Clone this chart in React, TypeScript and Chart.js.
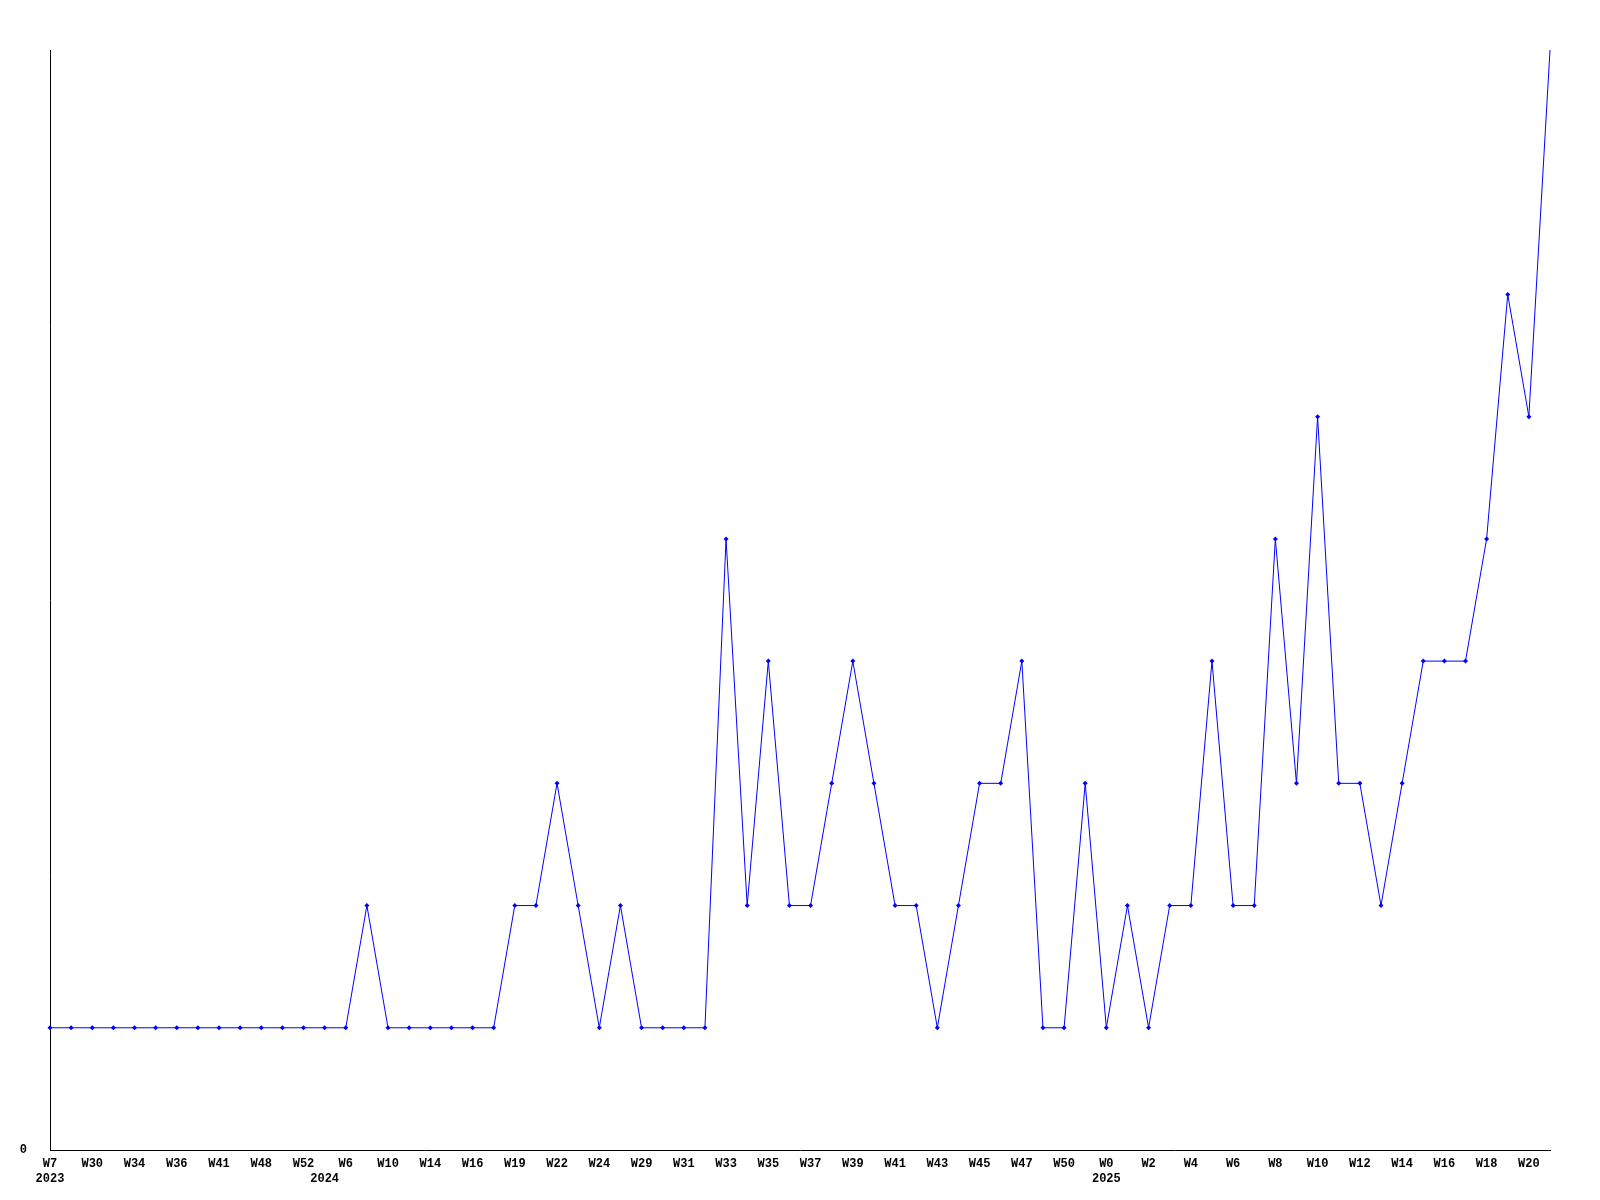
import React, { useEffect, useRef } from "react";
import { Chart, registerables } from "chart.js";

Chart.register(...registerables);

// Weekly values (72 weeks)
const values: number[] = [
  1, 1, 1, 1, 1, 1, 1, 1, 1, 1, 1, 1, 1, 1, 1, 2, 1, 1, 1, 1,
  1, 1, 2, 2, 3, 2, 1, 2, 1, 1, 1, 1, 5, 2, 4, 2, 2, 3, 4, 3,
  2, 2, 1, 2, 3, 3, 4, 1, 1, 3, 1, 2, 1, 2, 2, 4, 2, 2, 5, 3,
  6, 3, 3, 2, 3, 4, 4, 4, 5, 7, 6, 9,
];

// Week labels shown on every other point
const weekTickLabels: string[] = [
  "W7", "W30", "W34", "W36", "W41", "W48", "W52", "W6", "W10", "W14", "W16", "W19",
  "W22", "W24", "W29", "W31", "W33", "W35", "W37", "W39", "W41", "W43", "W45", "W47",
  "W50", "W0", "W2", "W4", "W6", "W8", "W10", "W12", "W14", "W16", "W18", "W20",
];

// Year labels: [point index, year]
const yearIndices: number[] = [0, 13, 50];
const yearNames: string[] = ["2023", "2024", "2025"];

const yMax = 9;

export default function App() {
  const canvasRef = useRef<HTMLCanvasElement | null>(null);

  useEffect(() => {
    const canvas = canvasRef.current;
    if (!canvas) return;
    const categories = values.map((_, i) => String(i));
    const tickFont = { family: "'Liberation Mono', 'DejaVu Sans Mono', monospace", size: 12, weight: "bold" as const, lineHeight: 1.2 };

    const chart = new Chart(canvas, {
      type: "line",
      data: {
        labels: categories,
        datasets: [
          {
            data: values,
            borderColor: "#0000ff",
            backgroundColor: "#0000ff",
            borderWidth: 1,
            pointStyle: "rectRot",
            pointRadius: (ctx: any) => (ctx.raw >= yMax ? 0 : 2.5),
            pointBorderWidth: 0,
            pointBackgroundColor: "#0000ff",
            tension: 0,
            fill: false,
          },
        ],
      },
      options: {
        animation: false,
        responsive: false,
        maintainAspectRatio: false,
        layout: { padding: { top: 50, right: 50, left: 0, bottom: 0 } },
        plugins: {
          legend: { display: false },
          tooltip: { enabled: false },
          title: { display: false },
        },
        scales: {
          x: {
            type: "category",
            offset: false,
            grid: { display: false, drawTicks: false },
            border: { display: true, color: "#000000", width: 1 },
            afterFit: (scale: any) => {
              scale.height = 50;
            },
            ticks: {
              autoSkip: false,
              maxRotation: 0,
              minRotation: 0,
              padding: 7,
              color: "#000000",
              font: tickFont,
              callback: (_v: any, index: number) => {
                const week = index % 2 === 0 ? weekTickLabels[index / 2] ?? "" : "";
                const yi = yearIndices.indexOf(index);
                if (yi >= 0) return [week, yearNames[yi]];
                return week;
              },
            },
          },
          y: {
            type: "linear",
            min: 0,
            max: yMax,
            grid: { display: false, drawTicks: false },
            border: { display: true, color: "#000000", width: 1 },
            afterFit: (scale: any) => {
              scale.width = 50;
            },
            afterBuildTicks: (scale: any) => {
              scale.ticks = [{ value: 0 }];
            },
            ticks: {
              padding: 23,
              color: "#000000",
              font: tickFont,
              callback: (v: any) => String(v),
            },
          },
        },
      },
    });
    return () => chart.destroy();
  }, []);

  return (
    <div style={{ position: "absolute", left: 0, top: 0, width: 1600, height: 1200, background: "#ffffff" }}>
      <canvas ref={canvasRef} width={1600} height={1200} style={{ width: 1600, height: 1200, display: "block" }} />
    </div>
  );
}
